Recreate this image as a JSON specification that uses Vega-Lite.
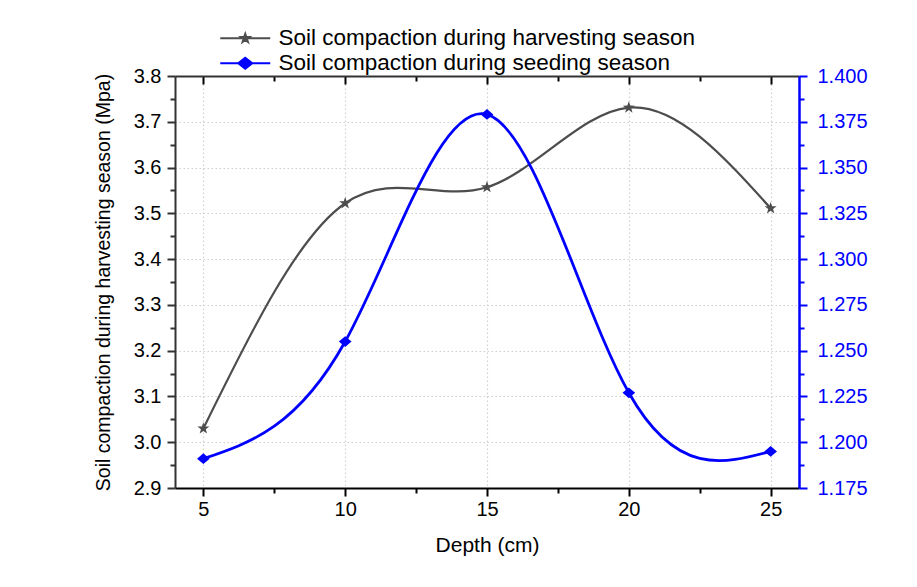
{
  "$schema": "https://vega.github.io/schema/vega-lite/v6.json",
  "width": 624,
  "height": 412,
  "autosize": {"type": "none"},
  "padding": {"left": 175, "top": 76, "right": 118, "bottom": 99},
  "background": "white",
  "config": {
    "view": {"stroke": null},
    "font": "Liberation Sans",
    "axis": {"labelFont": "Liberation Sans", "titleFont": "Liberation Sans", "titleFontWeight": "normal", "labelColor": "black", "titleColor": "black"}
  },
  "data": {
    "values": [
      {"depth": 5, "series": "Soil compaction during harvesting season", "value": 3.03},
      {"depth": 10, "series": "Soil compaction during harvesting season", "value": 3.522},
      {"depth": 15, "series": "Soil compaction during harvesting season", "value": 3.557},
      {"depth": 20, "series": "Soil compaction during harvesting season", "value": 3.731},
      {"depth": 25, "series": "Soil compaction during harvesting season", "value": 3.511},
      {"depth": 5, "series": "Soil compaction during seeding season", "value": 1.191},
      {"depth": 10, "series": "Soil compaction during seeding season", "value": 1.255},
      {"depth": 15, "series": "Soil compaction during seeding season", "value": 1.379},
      {"depth": 20, "series": "Soil compaction during seeding season", "value": 1.227},
      {"depth": 25, "series": "Soil compaction during seeding season", "value": 1.195}
    ]
  },
  "layer": [
    {
      "transform": [{"filter": "datum.series === 'Soil compaction during harvesting season'"}],
      "encoding": {
        "x": {
          "field": "depth", "type": "quantitative",
          "scale": {"domain": [4, 26], "nice": false, "zero": false},
          "axis": {
            "orient": "bottom",
            "values": [5, 7.5, 10, 12.5, 15, 17.5, 20, 22.5, 25],
            "labelExpr": "datum.value % 5 === 0 ? datum.label : ''",
            "labelFontSize": 20,
            "labelPadding": 3,
            "tickColor": "black",
            "tickWidth": 2,
            "tickSize": {"condition": {"test": "datum.value % 5 === 0", "value": 8}, "value": 5},
            "domainColor": "black",
            "domainWidth": 2,
            "grid": true,
            "gridColor": "#cfcfcf",
            "gridDash": [1.5, 2.5],
            "gridWidth": 1.2,
            "gridOpacity": {"condition": {"test": "datum.value % 5 === 0", "value": 1}, "value": 0},
            "title": "Depth (cm)",
            "titleFontSize": 21,
            "titlePadding": 15
          }
        },
        "y": {
          "field": "value", "type": "quantitative",
          "scale": {"domain": [2.9, 3.8], "nice": false, "zero": false},
          "axis": {
            "orient": "left",
            "values": [2.9, 2.95, 3.0, 3.05, 3.1, 3.15, 3.2, 3.25, 3.3, 3.35, 3.4, 3.45, 3.5, 3.55, 3.6, 3.65, 3.7, 3.75, 3.8],
            "format": ".1f",
            "labelExpr": "round(datum.value*100) % 10 === 0 ? datum.label : ''",
            "labelFontSize": 20,
            "labelPadding": 6,
            "tickColor": "#333333",
            "tickWidth": 2,
            "tickSize": {"condition": {"test": "round(datum.value*100) % 10 === 0", "value": 8}, "value": 5},
            "domainColor": "#333333",
            "domainWidth": 2,
            "grid": true,
            "gridColor": "#cfcfcf",
            "gridDash": [1.5, 2.5],
            "gridWidth": 1.2,
            "gridOpacity": {"condition": {"test": "round(datum.value*100) % 10 === 0", "value": 1}, "value": 0},
            "title": "Soil compaction during harvesting season (Mpa)",
            "titleFontSize": 19.5,
            "titlePadding": 20
          }
        },
        "color": {
          "field": "series", "type": "nominal",
          "scale": {"domain": ["Soil compaction during harvesting season", "Soil compaction during seeding season"], "range": ["#4d4d4d", "#0000ff"]},
          "legend": {
            "orient": "none",
            "legendX": 59,
            "legendY": -49,
            "direction": "vertical",
            "title": null,
            "padding": 0,
            "labelFont": "Liberation Sans",
            "labelFontSize": 22.5,
            "labelColor": "black",
            "labelOffset": 22,
            "symbolSize": 100,
            "rowPadding": 2,
            "labelLimit": 700,
            "encode": {
              "symbols": {
                "update": {
                  "shape": {"signal": "datum.value === 'Soil compaction during harvesting season' ? 'M-5,0H5M0,-0.9L0.21,-0.29L0.86,-0.28L0.34,0.11L0.53,0.73L0,0.36L-0.53,0.73L-0.34,0.11L-0.86,-0.28L-0.21,-0.29Z' : 'M-5,0H5M0,-1.1L1.4,0L0,1.1L-1.4,0Z'"},
                  "fill": {"signal": "datum.value === 'Soil compaction during harvesting season' ? '#4d4d4d' : '#0000ff'"},
                  "stroke": {"signal": "datum.value === 'Soil compaction during harvesting season' ? '#4d4d4d' : '#0000ff'"},
                  "strokeWidth": {"value": 2},
                  "opacity": {"value": 1},
                  "fillOpacity": {"value": 1}
                }
              }
            }
          }
        }
      },
      "layer": [
        {"mark": {"type": "line", "interpolate": "natural", "strokeWidth": 2.2}},
        {"mark": {"type": "point", "shape": "M0,-1L0.235,-0.324L0.951,-0.309L0.38,0.124L0.588,0.809L0,0.4L-0.588,0.809L-0.38,0.124L-0.951,-0.309L-0.235,-0.324Z", "filled": true, "size": 160, "opacity": 1}}
      ]
    },
    {
      "transform": [{"filter": "datum.series === 'Soil compaction during seeding season'"}],
      "encoding": {
        "x": {
          "field": "depth", "type": "quantitative",
          "scale": {"domain": [4, 26], "nice": false, "zero": false},
          "axis": {
            "orient": "top",
            "values": [5, 7.5, 10, 12.5, 15, 17.5, 20, 22.5, 25],
            "labels": false,
            "tickColor": "black",
            "tickWidth": 2,
            "tickSize": {"condition": {"test": "datum.value % 5 === 0", "value": -8}, "value": -5},
            "domainColor": "#333333",
            "domainWidth": 2,
            "grid": false,
            "title": null
          }
        },
        "y": {
          "field": "value", "type": "quantitative",
          "scale": {"domain": [1.175, 1.4], "nice": false, "zero": false},
          "axis": {
            "orient": "right",
            "values": [1.175, 1.1875, 1.2, 1.2125, 1.225, 1.2375, 1.25, 1.2625, 1.275, 1.2875, 1.3, 1.3125, 1.325, 1.3375, 1.35, 1.3625, 1.375, 1.3875, 1.4],
            "format": ".3f",
            "labelExpr": "round(datum.value*1000) % 25 === 0 ? datum.label : ''",
            "labelFontSize": 20,
            "labelColor": "#0000ff",
            "labelPadding": 10,
            "tickColor": "#0000ff",
            "tickWidth": 2,
            "tickSize": {"condition": {"test": "round(datum.value*1000) % 25 === 0", "value": 8}, "value": 5},
            "domainColor": "#0000ff",
            "domainWidth": 2.5,
            "grid": false,
            "title": null
          }
        },
        "color": {"field": "series", "type": "nominal"}
      },
      "layer": [
        {"mark": {"type": "line", "interpolate": "natural", "strokeWidth": 2.8}},
        {"mark": {"type": "point", "shape": "M0,-0.85L1,0L0,0.85L-1,0Z", "filled": true, "size": 160, "opacity": 1}}
      ]
    }
  ],
  "resolve": {"scale": {"y": "independent"}, "axis": {"x": "independent"}}
}
